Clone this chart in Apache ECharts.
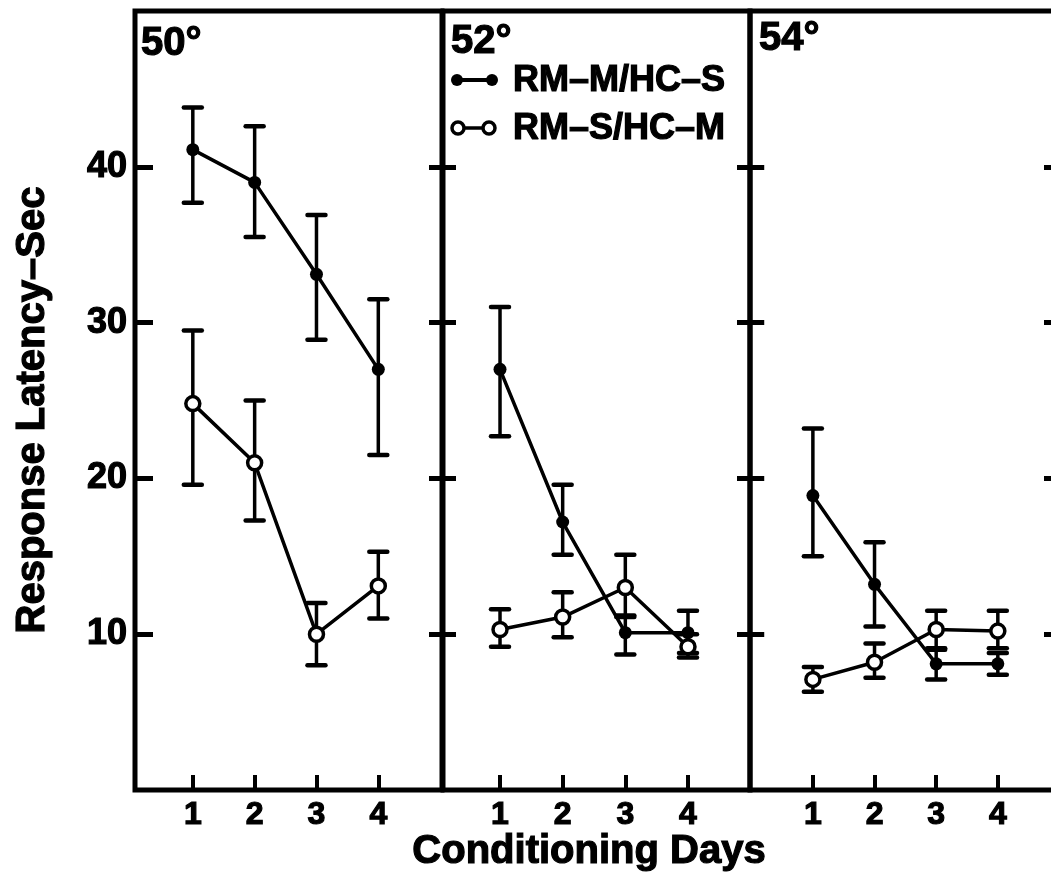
<!DOCTYPE html>
<html>
<head>
<meta charset="utf-8">
<script src="https://cdn.jsdelivr.net/npm/echarts@6/dist/echarts.min.js"></script>
<style>
  html, body { margin: 0; padding: 0; background: #fff; }
  #chart { width: 1051px; height: 877px; }
</style>
</head>
<body>
<div id="chart"></div>
<script>
// conditioning days on the x axis
var days = [1, 2, 3, 4]
var yTicks = [10, 20, 30, 40]
var panelNames = ['50°', '52°', '54°']
var seriesNames = ['RM–M/HC–S', 'RM–S/HC–M']
var xTitle = 'Conditioning Days'
var yTitle = 'Response Latency–Sec'

// RM-M/HC-S (filled dots), mean and error bar ends, per temperature
var filled50 = [41.1, 39.0, 33.1, 27.0]
var filled50Lo = [37.7, 35.5, 28.9, 21.5]
var filled50Hi = [43.8, 42.6, 36.9, 31.5]
var filled52 = [27.0, 17.2, 10.1, 10.1]
var filled52Lo = [22.7, 15.1, 8.7, 8.8]
var filled52Hi = [31.0, 19.6, 11.2, 11.5]
var filled54 = [18.9, 13.2, 8.1, 8.1]
var filled54Lo = [15.0, 10.5, 7.1, 7.4]
var filled54Hi = [23.2, 15.9, 9.0, 8.8]

// RM-S/HC-M (open dots)
var open50 = [24.8, 21.0, 10.0, 13.1]
var open50Lo = [19.6, 17.3, 8.0, 11.0]
var open50Hi = [29.5, 25.0, 12.0, 15.3]
var open52 = [10.3, 11.1, 13.0, 9.2]
var open52Lo = [9.2, 9.8, 11.1, 8.5]
var open52Hi = [11.6, 12.7, 15.1, 10.0]
var open54 = [7.1, 8.2, 10.3, 10.2]
var open54Lo = [6.3, 7.2, 9.1, 9.1]
var open54Hi = [7.9, 9.4, 11.5, 11.5]

var FONT = 'Liberation Sans, Arial, Helvetica, sans-serif'

var panels = [
  {name: panelNames[0], left: 135, xMin: 0.065, xMax: 5.03,
    filled: [filled50, filled50Lo, filled50Hi], open: [open50, open50Lo, open50Hi]},
  {name: panelNames[1], left: 443, xMin: 0.09, xMax: 4.99,
    filled: [filled52, filled52Lo, filled52Hi], open: [open52, open52Lo, open52Hi]},
  {name: panelNames[2], left: 750, xMin: -0.02, xMax: 4.96,
    filled: [filled54, filled54Lo, filled54Hi], open: [open54, open54Lo, open54Hi]}
]

function pts(vals) {
  return days.map(function (d, i) { return [d, vals[i]] })
}
function bars(lo, hi) {
  return days.map(function (d, i) { return [d, lo[i], hi[i]] })
}

function renderErr(params, api) {
  var x = api.value(0)
  var top = api.coord([x, api.value(2)])
  var bot = api.coord([x, api.value(1)])
  var w = 9
  return {
    type: 'group',
    children: [
      {type: 'line', shape: {x1: top[0], y1: top[1], x2: bot[0], y2: bot[1]}, style: {stroke: '#000', lineWidth: 3.5}},
      {type: 'line', shape: {x1: top[0] - w, y1: top[1], x2: top[0] + w, y2: top[1]}, style: {stroke: '#000', lineWidth: 4.5, lineCap: 'round'}},
      {type: 'line', shape: {x1: bot[0] - w, y1: bot[1], x2: bot[0] + w, y2: bot[1]}, style: {stroke: '#000', lineWidth: 4.5, lineCap: 'round'}}
    ]
  }
}

var grids = []
var xAxes = []
var yAxes = []
var series = []

panels.forEach(function (p, k) {
  grids.push({
    left: p.left, width: 307, top: 11, height: 779,
    outerBoundsMode: 'none', containLabel: false,
    show: true, borderColor: '#000', borderWidth: 5, backgroundColor: 'transparent'
  })
  xAxes.push({
    type: 'value', gridIndex: k, min: p.xMin, max: p.xMax,
    axisLine: {show: false},
    splitLine: {show: false},
    axisTick: {show: true, inside: true, length: 15, lineStyle: {color: '#000', width: 4}, customValues: days},
    axisLabel: {show: true, customValues: days, margin: 9, color: '#000',
      fontSize: 32, fontWeight: 'bold', fontFamily: FONT,
      textBorderColor: '#000', textBorderWidth: 1.2}
  })
  // left side ticks (and labels on the first panel)
  yAxes.push({
    type: 'value', gridIndex: k, position: 'left', min: 0, max: 50, interval: 10,
    axisLine: {show: false},
    splitLine: {show: false},
    axisTick: {show: true, inside: true, length: k === 0 ? 18 : 13,
      lineStyle: {color: '#000', width: 5}, customValues: yTicks},
    axisLabel: {show: k === 0, customValues: yTicks, margin: 8, color: '#000',
      fontSize: 36, fontWeight: 'bold', fontFamily: FONT,
      textBorderColor: '#000', textBorderWidth: 1.2}
  })
  // right side ticks
  yAxes.push({
    type: 'value', gridIndex: k, position: 'right', min: 0, max: 50, interval: 10,
    axisLine: {show: false},
    splitLine: {show: false},
    axisTick: {show: true, inside: true, length: 13,
      lineStyle: {color: '#000', width: 5}, customValues: yTicks},
    axisLabel: {show: false}
  })

  series.push({
    type: 'custom', name: 'err-f' + k, xAxisIndex: k, yAxisIndex: k * 2,
    renderItem: renderErr, data: bars(p.filled[1], p.filled[2]), z: 2, silent: true
  })
  series.push({
    type: 'custom', name: 'err-o' + k, xAxisIndex: k, yAxisIndex: k * 2,
    renderItem: renderErr, data: bars(p.open[1], p.open[2]), z: 2, silent: true
  })
  series.push({
    type: 'line', name: seriesNames[0], xAxisIndex: k, yAxisIndex: k * 2,
    data: pts(p.filled[0]), symbol: 'circle', symbolSize: 13,
    itemStyle: {color: '#000'}, lineStyle: {color: '#000', width: 3.5}, z: 3
  })
  series.push({
    type: 'line', name: seriesNames[1], xAxisIndex: k, yAxisIndex: k * 2,
    data: pts(p.open[0]), symbol: 'circle', symbolSize: 14,
    itemStyle: {color: '#fff', borderColor: '#000', borderWidth: 3.5},
    lineStyle: {color: '#000', width: 3.5}, z: 4
  })
})

var txt = function (s, x, y, size, extra) {
  var el = {type: 'text', x: x, y: y, style: {text: s, fill: '#000',
    stroke: '#000', lineWidth: 1.2,
    font: 'bold ' + size + 'px ' + FONT, verticalAlign: 'middle'}}
  if (extra) {
    for (var key in extra) el[key] = extra[key]
  }
  return el
}

var graphic = [
  txt(panels[0].name, 141, 44, 40),
  txt(panels[1].name, 451, 42, 40),
  txt(panels[2].name, 759, 39, 40),
  // axis titles
  {type: 'text', x: 589, y: 852, style: {text: xTitle, fill: '#000', stroke: '#000', lineWidth: 1.2,
    font: 'bold 40px ' + FONT, align: 'center', verticalAlign: 'middle'}},
  {type: 'text', x: 33, y: 410, rotation: Math.PI / 2, style: {text: yTitle, fill: '#000', stroke: '#000', lineWidth: 1.2,
    font: 'bold 40px ' + FONT, align: 'center', verticalAlign: 'middle'}},
  // legend
  {type: 'line', shape: {x1: 457, y1: 80, x2: 492, y2: 80}, style: {stroke: '#000', lineWidth: 4}},
  {type: 'circle', shape: {cx: 457, cy: 80, r: 6}, style: {fill: '#000'}},
  {type: 'circle', shape: {cx: 492, cy: 80, r: 6}, style: {fill: '#000'}},
  txt(seriesNames[0], 513, 81, 36),
  {type: 'line', shape: {x1: 458, y1: 128, x2: 489, y2: 128}, style: {stroke: '#000', lineWidth: 3.5}},
  {type: 'circle', shape: {cx: 458, cy: 128, r: 6}, style: {fill: '#fff', stroke: '#000', lineWidth: 3.5}},
  {type: 'circle', shape: {cx: 489, cy: 128, r: 6}, style: {fill: '#fff', stroke: '#000', lineWidth: 3.5}},
  txt(seriesNames[1], 513, 129, 36)
]

var chart = echarts.init(document.getElementById('chart'))
chart.setOption({
  animation: false,
  backgroundColor: '#fff',
  grid: grids,
  xAxis: xAxes,
  yAxis: yAxes,
  series: series,
  graphic: graphic
})
</script>
</body>
</html>
